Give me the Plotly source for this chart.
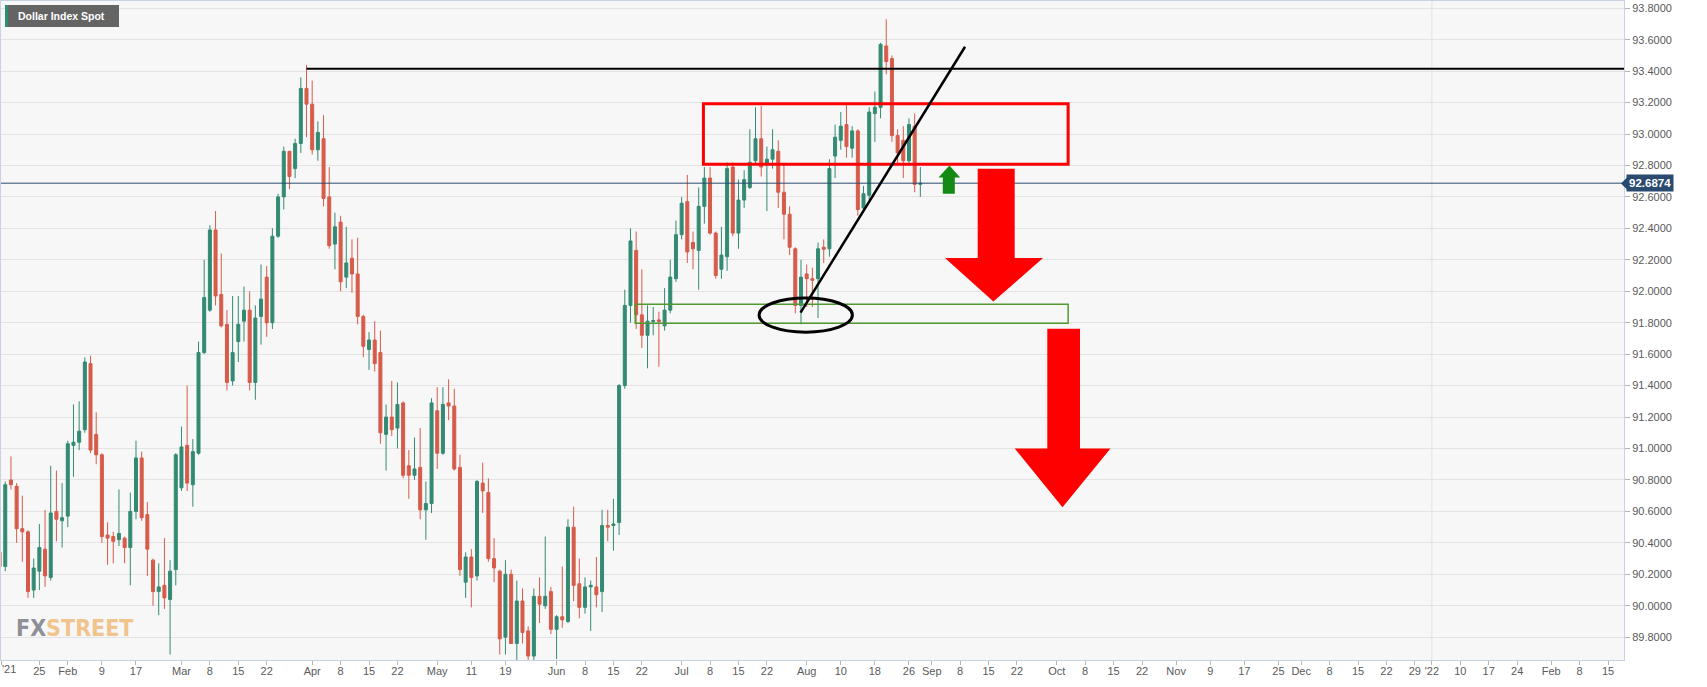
import plotly.graph_objects as go
import pandas as pd

# ---------------- data (Dollar Index Spot, daily) ----------------
start_date = "2021-01-14"
end_date = "2021-08-30"
dates = pd.bdate_range(start_date, end_date)

opens = [
    # Jan
    90.34, 90.25, 90.80, 90.76, 90.49, 90.47, 90.10, 90.22, 90.36, 90.18, 90.60, 90.54,
    # Feb
    90.57, 91.02, 91.04, 91.12, 91.54, 91.09, 90.96, 90.45, 90.44, 90.42, 90.43, 90.37,
    90.60, 90.94, 90.58, 90.29, 90.09, 90.13, 90.04, 90.23,
    # Mar
    90.75, 91.02, 90.77, 90.97, 91.61, 91.88, 92.39, 91.98, 91.79, 91.43, 91.68, 91.81,
    91.88, 91.42, 91.84, 92.09, 91.80, 92.35, 92.60, 92.89, 92.78, 92.94, 93.29,
    # Apr
    93.19, 92.90, 92.97, 92.60, 92.30, 92.44, 92.09, 92.21, 92.11, 91.84, 91.63, 91.69,
    91.61, 91.09, 91.20, 91.13, 91.29, 90.89, 90.83, 90.88, 90.61, 90.65,
    # May
    91.24, 90.97, 91.29, 91.27, 90.88, 90.15, 90.31, 90.19, 90.78, 90.72, 90.30, 90.22,
    89.80, 90.20, 89.76, 90.03, 89.84, 89.68, 90.06, 90.00, 90.09,
    # Jun
    89.85, 89.93, 89.90, 90.50, 90.14, 89.99, 90.12, 90.12, 90.09, 90.51, 90.51, 90.53,
    91.40, 91.91, 92.26, 91.85, 91.72, 91.807, 91.818, 91.78, 91.88, 92.08,
    # Jul
    92.36, 92.57, 92.31, 92.26, 92.54, 92.72, 92.37, 92.14, 92.22, 92.79, 92.37, 92.58,
    92.66, 92.83, 92.97, 92.81, 92.84, 92.89, 92.63, 92.49, 92.27, 91.91,
    # Aug
    92.11, 92.08, 92.08, 92.28, 92.27, 92.86, 92.96, 93.06, 92.91, 93.02, 92.53, 92.61,
    93.13, 93.17, 93.56, 93.48, 92.99, 92.96, 92.83, 93.05, 92.68,
]
highs = [
    90.58, 90.79, 90.95, 90.78, 90.70, 90.48, 90.30, 90.52, 90.61, 90.89, 90.86, 90.78,
    91.05, 91.28, 91.30, 91.58, 91.59, 91.23, 90.97, 90.53, 90.47, 90.74, 90.44, 90.72,
    91.05, 90.98, 90.66, 90.30, 90.27, 90.43, 90.29, 90.97,
    91.14, 91.40, 91.06, 91.68, 92.20, 92.42, 92.51, 92.24, 91.88, 91.97, 91.97, 92.03,
    92.00, 91.91, 92.17, 92.16, 92.40, 92.62, 92.92, 92.89, 92.97, 93.36, 93.44,
    93.34, 93.08, 93.12, 92.79, 92.50, 92.48, 92.41, 92.33, 92.34, 91.85, 91.74, 91.81,
    91.75, 91.28, 91.43, 91.42, 91.30, 90.99, 91.07, 91.13, 90.79, 91.32,
    91.39, 91.39, 91.44, 91.38, 90.96, 90.34, 90.36, 90.80, 90.91, 90.81, 90.43, 90.23,
    90.29, 90.23, 90.16, 90.11, 89.87, 90.11, 90.18, 90.44, 90.12,
    89.94, 90.25, 90.55, 90.63, 90.30, 90.18, 90.16, 90.31, 90.61, 90.61, 90.68, 91.41,
    92.01, 92.40, 92.38, 92.14, 91.91, 91.90, 91.87, 92.02, 92.20, 92.45,
    92.60, 92.74, 92.38, 92.66, 92.79, 92.79, 92.38, 92.41, 92.82, 92.82, 92.71, 92.77,
    93.03, 93.17, 93.18, 92.92, 93.03, 92.96, 92.81, 92.54, 92.28, 92.20,
    92.17, 92.15, 92.31, 92.33, 92.84, 93.06, 93.14, 93.19, 93.05, 93.03, 92.67, 93.17,
    93.27, 93.58, 93.73, 93.50, 93.03, 93.05, 93.10, 93.13, 92.79,
]
lows = [
    90.08, 90.22, 90.74, 90.40, 90.28, 90.05, 90.05, 90.10, 90.12, 90.16, 90.41, 90.37,
    90.50, 90.82, 90.99, 91.10, 90.97, 90.90, 90.40, 90.26, 90.27, 90.38, 90.27, 90.13,
    90.55, 90.54, 90.19, 90.00, 89.94, 89.98, 89.69, 90.13,
    90.73, 90.73, 90.63, 90.96, 91.60, 91.87, 91.91, 91.77, 91.37, 91.40, 91.55, 91.68,
    91.37, 91.31, 91.66, 91.71, 91.76, 92.34, 92.52, 92.65, 92.72, 92.88, 92.98,
    92.87, 92.83, 92.54, 92.27, 92.14, 92.00, 92.02, 91.99, 91.79, 91.58, 91.50, 91.49,
    91.03, 90.86, 91.08, 91.00, 90.81, 90.68, 90.80, 90.55, 90.42, 90.59,
    90.87, 90.96, 91.18, 90.86, 90.19, 90.05, 89.99, 90.16, 90.59, 90.28, 90.15, 89.69,
    89.69, 89.76, 89.65, 89.76, 89.63, 89.63, 89.89, 89.98, 89.82,
    89.66, 89.86, 89.89, 90.03, 89.92, 89.95, 89.84, 89.99, 89.96, 90.41, 90.35, 90.45,
    91.38, 91.80, 91.76, 91.64, 91.51, 91.72, 91.52, 91.75, 91.86, 92.06,
    92.33, 92.18, 92.14, 92.01, 92.43, 92.36, 92.08, 92.08, 92.13, 92.35, 92.27, 92.53,
    92.65, 92.81, 92.73, 92.51, 92.78, 92.53, 92.33, 92.23, 91.86, 91.79,
    91.90, 91.90, 91.83, 92.18, 92.22, 92.72, 92.90, 92.85, 92.85, 92.48, 92.50, 92.58,
    92.95, 93.10, 93.38, 92.95, 92.80, 92.72, 92.80, 92.63, 92.60,
]
closes = [
    90.25, 90.77, 90.77, 90.49, 90.47, 90.09, 90.24, 90.37, 90.19, 90.59, 90.55, 90.56,
    91.03, 91.04, 91.11, 91.55, 90.99, 90.96, 90.44, 90.43, 90.41, 90.46, 90.37, 90.60,
    90.94, 90.56, 90.36, 90.09, 90.12, 90.05, 90.22, 90.96,
    91.01, 90.78, 90.98, 91.61, 91.96, 92.39, 91.97, 91.78, 91.42, 91.61, 91.79, 91.88,
    91.42, 91.83, 91.95, 91.80, 92.35, 92.60, 92.89, 92.73, 92.94, 93.29, 93.19,
    92.90, 93.01, 92.59, 92.29, 92.41, 92.06, 92.18, 92.11, 91.84, 91.65, 91.69, 91.54,
    91.10, 91.20, 91.12, 91.28, 90.83, 90.83, 90.87, 90.61, 90.65, 91.29,
    90.97, 91.28, 91.27, 90.87, 90.23, 90.31, 90.18, 90.79, 90.73, 90.30, 90.24, 89.79,
    90.20, 89.76, 90.03, 89.83, 89.68, 90.06, 90.01, 90.06, 89.85,
    89.93, 89.91, 90.50, 90.13, 89.99, 90.12, 90.13, 90.07, 90.51, 90.50, 90.52, 91.40,
    91.91, 92.32, 91.85, 91.72, 91.81, 91.814, 91.807, 91.88, 92.09, 92.36,
    92.56, 92.25, 92.27, 92.54, 92.72, 92.37, 92.10, 92.23, 92.78, 92.37, 92.58, 92.71,
    92.82, 92.97, 92.79, 92.84, 92.90, 92.63, 92.49, 92.28, 91.91, 92.09,
    92.08, 92.07, 92.27, 92.267, 92.78, 92.98, 93.05, 92.92, 93.02, 92.52, 92.62, 93.14,
    93.17, 93.57, 93.46, 92.99, 92.88, 92.83, 93.06, 92.68, 92.6874,
]
last_price = 92.6874
resistance_level = 93.415

# x-axis labels (trading-day axis); the first one ("'21") sits on the left edge
tick_dates = [
    "2021-01-14 20:00", "2021-01-25", "2021-02-01", "2021-02-09", "2021-02-17",
    "2021-03-01", "2021-03-08", "2021-03-15", "2021-03-22",
    "2021-04-01", "2021-04-08", "2021-04-15", "2021-04-22",
    "2021-05-03", "2021-05-11", "2021-05-19",
    "2021-06-01", "2021-06-08", "2021-06-15", "2021-06-22",
    "2021-07-01", "2021-07-08", "2021-07-15", "2021-07-22",
    "2021-08-02", "2021-08-10", "2021-08-18", "2021-08-26",
    "2021-09-01", "2021-09-08", "2021-09-15", "2021-09-22",
    "2021-10-01", "2021-10-08", "2021-10-15", "2021-10-22",
    "2021-11-01", "2021-11-09", "2021-11-17", "2021-11-25",
    "2021-12-01", "2021-12-08", "2021-12-15", "2021-12-22", "2021-12-29",
    "2022-01-03", "2022-01-10", "2022-01-17", "2022-01-24",
    "2022-02-01", "2022-02-08", "2022-02-15",
]
tick_labels = [
    "'21", "25", "Feb", "9", "17",
    "Mar", "8", "15", "22",
    "Apr", "8", "15", "22",
    "May", "11", "19",
    "Jun", "8", "15", "22",
    "Jul", "8", "15", "22",
    "Aug", "10", "18", "26",
    "Sep", "8", "15", "22",
    "Oct", "8", "15", "22",
    "Nov", "9", "17", "25",
    "Dec", "8", "15", "22", "29",
    "'22", "10", "17", "24",
    "Feb", "8", "15",
]

assert len(dates) == len(opens) == len(highs) == len(lows) == len(closes)


def noon(d):
    return d if " " in d else d + " 12:00"


x = [d.strftime("%Y-%m-%d") + " 12:00" for d in dates]
tickvals = [noon(d) for d in tick_dates]
# the edge label is drawn as an annotation so it is not hidden at the border
axis_ticktext = [""] + tick_labels[1:]

X_START = "2021-01-14 18:00"
X_END = "2022-02-18 07:12"

# plot-area pixel geometry (for decorative drawings in paper coords)
L, R, T, B = 1, 1624, 1, 660
W, H = 1707, 687


def px(v):
    return (v - L) / (R - L)


def py(v):
    return (B - v) / (B - T)


def path(points):
    s = "M " + " L ".join(f"{px(a):.5f},{py(b):.5f}" for a, b in points) + " Z"
    return s


fig = go.Figure()
fig.add_trace(go.Candlestick(
    x=x, open=opens, high=highs, low=lows, close=closes,
    increasing=dict(line=dict(color="#338a73", width=1), fillcolor="#338a73"),
    decreasing=dict(line=dict(color="#d65b4a", width=1), fillcolor="#d65b4a"),
    whiskerwidth=0, hoverinfo="skip", showlegend=False,
))

shapes = []
# year separator
shapes.append(dict(type="line", xref="x", yref="paper", x0=noon("2022-01-03"), x1=noon("2022-01-03"),
                   y0=0, y1=1, line=dict(color="#e2e2e2", width=1), layer="below"))
# last price line
shapes.append(dict(type="line", xref="paper", yref="y", x0=0, x1=1, y0=last_price, y1=last_price,
                   line=dict(color="#2a4a70", width=1)))
# resistance line
shapes.append(dict(type="line", xref="x", yref="y", x0=noon("2021-03-31"), x1=X_END,
                   y0=resistance_level, y1=resistance_level, line=dict(color="black", width=2)))
# red box
shapes.append(dict(type="rect", xref="x", yref="y", x0="2021-07-07 08:00", x1="2021-10-05 12:00",
                   y0=92.808, y1=93.192, line=dict(color="#ff0000", width=3)))
# green box
shapes.append(dict(type="rect", xref="x", yref="y", x0="2021-06-21 08:00", x1="2021-10-05 12:00",
                   y0=91.797, y1=91.918, line=dict(color="#519a30", width=1.5)))
# ellipse at the low
shapes.append(dict(type="circle", xref="x", yref="y", x0="2021-07-21 03:00", x1="2021-08-12 13:00",
                   y0=91.740, y1=91.957, line=dict(color="black", width=3)))
# trend line
shapes.append(dict(type="line", xref="x", yref="y", x0="2021-07-30 10:00", x1="2021-09-09 08:40",
                   y0=91.864, y1=93.555, line=dict(color="black", width=2.5)))
# big red arrows
shapes.append(dict(type="path", xref="paper", yref="paper", fillcolor="#ff0000", line=dict(width=0),
                   path=path([(977.7, 168.7), (1014.7, 168.7), (1014.7, 258.0), (1043.0, 258.0),
                              (993.4, 301.6), (945.0, 258.0), (977.7, 258.0)])))
shapes.append(dict(type="path", xref="paper", yref="paper", fillcolor="#ff0000", line=dict(width=0),
                   path=path([(1047.3, 328.8), (1080.0, 328.8), (1080.0, 448.5), (1110.5, 448.5),
                              (1062.5, 507.3), (1014.7, 448.5), (1047.3, 448.5)])))
# small green up arrow
shapes.append(dict(type="path", xref="paper", yref="paper", fillcolor="#138a13", line=dict(width=0),
                   path=path([(942.8, 193.8), (954.8, 193.8), (954.8, 177.5), (960.2, 177.5),
                              (949.4, 165.5), (938.5, 177.5), (942.8, 177.5)])))
# title box
shapes.append(dict(type="rect", xref="paper", yref="paper", x0=px(5), x1=px(119), y0=py(27), y1=py(5),
                   fillcolor="#646464", line=dict(width=0)))
shapes.append(dict(type="rect", xref="paper", yref="paper", x0=px(5), x1=px(8), y0=py(27), y1=py(5),
                   fillcolor="#2e8b74", line=dict(width=0)))
# price tag notch
shapes.append(dict(type="path", xref="paper", yref="paper", fillcolor="#2a4a70", line=dict(width=0),
                   path=path([(1621, 183.5), (1627, 177.5), (1627, 189.5)])))

annotations = [
    dict(xref="paper", yref="paper", x=px(16), y=py(16.5), xanchor="left", yanchor="middle",
         text="<b>Dollar Index Spot</b>", showarrow=False,
         font=dict(color="white", size=10.5, family="Liberation Sans, Arial, sans-serif")),
    dict(xref="paper", yref="y", x=px(1626), y=last_price, xanchor="left", yanchor="middle",
         text="<b>92.6874</b>", showarrow=False, bgcolor="#2a4a70", borderpad=2,
         font=dict(color="white", size=11.5, family="Liberation Sans, Arial, sans-serif")),
    dict(xref="paper", yref="paper", x=px(14), y=py(628), xanchor="left", yanchor="middle",
         text="<span style='color:#8f9097'>FX</span><span style='color:#f1c48d'>STREET</span>",
         showarrow=False,
         font=dict(size=23, family="Liberation Sans Narrow, DejaVu Sans Condensed, Arial Narrow, sans-serif",
                   weight="bold")),
    dict(xref="paper", yref="paper", x=px(0), y=py(669), xanchor="left", yanchor="middle",
         text=tick_labels[0], showarrow=False,
         font=dict(size=11, color="#5a5a5a", family="Liberation Sans, Arial, sans-serif")),
]

fig.update_layout(
    width=W, height=H,
    margin=dict(l=L, r=W - R, t=T, b=H - B, pad=0, autoexpand=False),
    paper_bgcolor="white", plot_bgcolor="#f7f7f7",
    showlegend=False, boxgap=0.25,
    font=dict(family="Liberation Sans, Arial, sans-serif", size=11, color="#5a5a5a"),
    xaxis=dict(type="date", range=[X_START, X_END], automargin=False,
               rangebreaks=[dict(bounds=["sat", "mon"])],
               rangeslider=dict(visible=False),
               tickmode="array", tickvals=tickvals, ticktext=axis_ticktext,
               ticks="outside", ticklen=4, tickcolor="#b5b5b5", ticklabelstandoff=-3,
               showgrid=False, zeroline=False,
               showline=True, linecolor="#c9d2e3", linewidth=1, mirror=True),
    yaxis=dict(side="right", range=[89.655, 93.846], automargin=False,
               tickmode="linear", tick0=89.8, dtick=0.2,
               tickformat=".4f", ticks="outside", ticklen=5, tickcolor="#b5b5b5",
               showgrid=True, gridcolor="#e3e3e3", gridwidth=1, zeroline=False,
               showline=True, linecolor="#c9d2e3", linewidth=1, mirror=True),
    shapes=shapes, annotations=annotations,
    hovermode=False,
)

fig.write_html("out.html", config={"displayModeBar": False},
               post_script="document.body.style.margin='0';document.body.style.overflow='hidden';")
